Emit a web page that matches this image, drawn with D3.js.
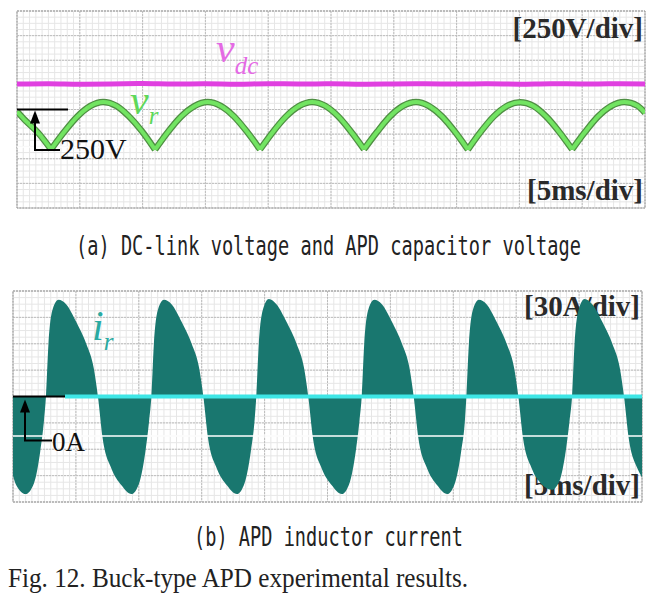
<!DOCTYPE html>
<html>
<head>
<meta charset="utf-8">
<script src="https://cdn.jsdelivr.net/npm/d3@7"></script>
<style>
body { margin: 0; background: #fff; }
svg { display: block; }
</style>
</head>
<body>
<svg id="chart"></svg>
<script>
// time in ms, voltage in V measured from the v_r marker
var vdcData = [[0,258],[2.5,262],[5,257],[7.5,260],[10,263],[12.5,258],[15,261],[17.5,257],[20,262],
  [22.5,259],[25,261],[27.5,257],[30,260],[32.5,262],[35,258],[37.5,261],[40,257],[42.5,262],[45,259],[47.5,261],[50,258]];

var vrData = [[0,-20],[0.65,-110],[1.67,-235],[2.71,-405],
  [3.75,-228],[4.8,-72],[5.85,36],[6.85,76],[7.9,37],[8.9,-68],[9.95,-222],[10.99,-408],
  [12.03,-226],[13.08,-70],[14.12,34],[15.17,75],[16.22,36],[17.26,-69],[18.3,-224],[19.35,-406],
  [20.39,-225],[21.42,-71],[22.45,35],[23.49,77],[24.53,38],[25.56,-68],[26.6,-225],[27.63,-404],
  [28.67,-227],[29.7,-70],[30.73,36],[31.77,76],[32.8,35],[33.83,-70],[34.87,-226],[35.9,-407],
  [36.94,-224],[37.97,-69],[39.0,35],[40.05,74],[41.1,36],[42.12,-70],[43.16,-225],[44.2,-405],
  [45.24,-226],[46.27,-70],[47.3,35],[48.35,76],[49.4,38],[50,-35]];

// envelope of the inductor current, A
var irData = [[0,-90],[0.26,-101],[1.0,-111],[1.66,-99],[2.16,-63],[2.46,-28],
  [2.62,0],[2.82,60],[3.17,100],[3.62,110],[4.22,105],[5.02,85],[5.82,60],[6.42,32],[6.75,0],[7.12,-47],[7.82,-82],[8.62,-101],[9.42,-111],[10.02,-99],[10.52,-63],[10.82,-28],
  [11.0,0],[11.2,60],[11.55,100],[12.0,110],[12.6,105],[13.4,85],[14.2,60],[14.8,32],[15.13,0],[15.5,-47],[16.2,-82],[17.0,-101],[17.8,-111],[18.4,-99],[18.9,-63],[19.2,-28],
  [19.34,0],[19.54,60],[19.89,100],[20.34,111],[20.94,105],[21.74,85],[22.54,60],[23.14,32],[23.47,0],[23.84,-47],[24.54,-82],[25.34,-101],[26.14,-111],[26.74,-99],[27.24,-63],[27.54,-28],
  [27.72,0],[27.92,60],[28.27,100],[28.72,110],[29.32,105],[30.12,85],[30.92,60],[31.52,32],[31.85,0],[32.22,-47],[32.92,-82],[33.72,-101],[34.52,-111],[35.12,-99],[35.62,-63],[35.92,-28],
  [36.04,0],[36.24,60],[36.59,100],[37.04,110],[37.64,105],[38.44,85],[39.24,60],[39.84,32],[40.17,0],[40.54,-47],[41.24,-82],[42.04,-100],[42.84,-106],[43.44,-96],[43.94,-62],[44.24,-28],
  [44.44,0],[44.64,60],[44.99,100],[45.44,111],[46.04,105],[46.84,85],[47.64,60],[48.24,32],[48.57,0],[48.94,-47],[49.64,-82],[50,-92]];

var topLabels = ['[250V/div]', '[5ms/div]'];
var bottomLabels = ['[30A/div]', '[5ms/div]'];
var captionA = '(a) DC-link voltage and APD capacitor voltage';
var captionB = '(b) APD inductor current';
var figCaption = 'Fig. 12. Buck-type APD experimental results.';

const svg = d3.select('#chart').attr('width', 664).attr('height', 599);
const serif = '"Liberation Serif", "Times New Roman", serif';
const mono = '"DejaVu Sans Mono", monospace';

function makePanel(id, box, yDomain, yStep) {
  const x = d3.scaleLinear().domain([0, 50]).range([box.left, box.right]);
  const y = d3.scaleLinear().domain(yDomain).range([box.bottom, box.top]);
  const g = svg.append('g');

  svg.append('clipPath').attr('id', id)
    .append('rect')
    .attr('x', box.left).attr('y', box.top)
    .attr('width', box.right - box.left).attr('height', box.bottom - box.top);

  g.append('rect')
    .attr('x', box.left).attr('y', box.top)
    .attr('width', box.right - box.left).attr('height', box.bottom - box.top)
    .attr('fill', '#fff');

  g.selectAll('line.minor-v')
    .data(d3.range(0, 50.001, 0.5))
    .enter().append('line')
    .attr('x1', d => x(d)).attr('x2', d => x(d))
    .attr('y1', box.top).attr('y2', box.bottom)
    .attr('stroke', '#e6e6e6').attr('stroke-width', 1);

  g.selectAll('line.minor-h')
    .data(d3.range(yDomain[0], yDomain[1] + 1e-6, yStep / 4))
    .enter().append('line')
    .attr('x1', box.left).attr('x2', box.right)
    .attr('y1', d => y(d)).attr('y2', d => y(d))
    .attr('stroke', '#e6e6e6').attr('stroke-width', 1);

  g.selectAll('line.major-v')
    .data(d3.range(0, 50.001, 5))
    .enter().append('line')
    .attr('x1', d => x(d)).attr('x2', d => x(d))
    .attr('y1', box.top).attr('y2', box.bottom)
    .attr('stroke', '#bdbdbd').attr('stroke-width', 1)
    .attr('stroke-dasharray', '2,1');

  g.selectAll('line.major-h')
    .data(d3.range(yDomain[0], yDomain[1] + 1e-6, yStep))
    .enter().append('line')
    .attr('x1', box.left).attr('x2', box.right)
    .attr('y1', d => y(d)).attr('y2', d => y(d))
    .attr('stroke', '#bdbdbd').attr('stroke-width', 1)
    .attr('stroke-dasharray', '2,1');

  g.append('rect')
    .attr('x', box.left).attr('y', box.top)
    .attr('width', box.right - box.left).attr('height', box.bottom - box.top)
    .attr('fill', 'none').attr('stroke', '#a0a0a0').attr('stroke-width', 1)
    .attr('stroke-dasharray', '2,1');

  return {x: x, y: y, g: g, box: box};
}

function scaleText(p, labels, y1, y2) {
  p.g.selectAll('text.div')
    .data(labels)
    .enter().append('text')
    .attr('x', p.box.right - 2)
    .attr('y', (d, i) => i == 0 ? y1 : y2)
    .attr('text-anchor', 'end')
    .attr('font-family', serif).attr('font-weight', 'bold')
    .attr('font-size', 29).attr('fill', '#2a2a2a')
    .text(d => d);
}

// tall, narrow caption text like the original Korean mono font
function caption(str, x, y, width) {
  svg.append('text')
    .attr('transform', 'translate(' + x + ',' + y + ') scale(1,1.42)')
    .attr('font-family', mono).attr('font-size', 18.3).attr('fill', '#222')
    .attr('textLength', width).attr('lengthAdjust', 'spacingAndGlyphs')
    .text(str);
}

// split a trace at its cusps (local minima) so that each arc is smooth
function arcs(data) {
  var out = [], cur = [data[0]];
  for (var i = 1; i < data.length; i++) {
    cur.push(data[i]);
    if (i < data.length - 1 && data[i][1] < data[i - 1][1] && data[i][1] < data[i + 1][1]) {
      out.push(cur);
      cur = [data[i]];
    }
  }
  out.push(cur);
  return out;
}

// ---- (a) voltages
const pa = makePanel('clipA', {left: 17, right: 645, top: 11, bottom: 208}, [-1000, 1000], 250);
scaleText(pa, topLabels, 38, 200);

pa.g.append('line')
  .attr('x1', pa.box.left).attr('x2', pa.box.right)
  .attr('y1', pa.y(-380)).attr('y2', pa.y(-380))
  .attr('stroke', '#fff').attr('stroke-width', 1.5);

const lineA = d3.line().x(d => pa.x(d[0])).y(d => pa.y(d[1]));
const traces = pa.g.append('g').attr('clip-path', 'url(#clipA)');

traces.append('path')
  .datum(vdcData)
  .attr('d', lineA.curve(d3.curveMonotoneX))
  .attr('fill', 'none').attr('stroke', '#e040e0').attr('stroke-width', 5);

var vrArcs = arcs(vrData);
traces.selectAll('path.vr-edge')
  .data(vrArcs)
  .enter().append('path')
  .attr('class', 'vr-edge')
  .attr('d', d3.line().x(d => pa.x(d[0])).y(d => pa.y(d[1])).curve(d3.curveMonotoneX))
  .attr('fill', 'none').attr('stroke', '#4f8f43').attr('stroke-width', 6.5);
traces.selectAll('path.vr')
  .data(vrArcs)
  .enter().append('path')
  .attr('class', 'vr')
  .attr('d', d3.line().x(d => pa.x(d[0])).y(d => pa.y(d[1])).curve(d3.curveMonotoneX))
  .attr('fill', 'none').attr('stroke', '#72e462').attr('stroke-width', 4);

// v_r reference marker
var y0a = pa.y(0), ya = pa.y(-410), xa = pa.box.left + 18;
pa.g.append('line').attr('x1', pa.box.left).attr('x2', pa.box.left + 51)
  .attr('y1', y0a).attr('y2', y0a).attr('stroke', '#000').attr('stroke-width', 2);
pa.g.append('path')
  .attr('d', 'M' + xa + ',' + (y0a + 13) + 'V' + ya + 'H' + (xa + 25))
  .attr('fill', 'none').attr('stroke', '#000').attr('stroke-width', 2);
pa.g.append('path')
  .attr('d', 'M' + xa + ',' + (y0a + 1) + 'L' + (xa - 5) + ',' + (y0a + 14) + 'L' + (xa + 5) + ',' + (y0a + 14) + 'Z')
  .attr('fill', '#000');
pa.g.append('text').attr('x', xa + 25).attr('y', ya + 9)
  .attr('font-family', serif).attr('font-size', 30).attr('fill', '#111')
  .text('250V');

var vdcLabel = pa.g.append('text').attr('x', 216).attr('y', 62)
  .attr('font-family', serif).attr('font-style', 'italic').attr('fill', '#e46ae4');
vdcLabel.append('tspan').attr('font-size', 42).text('v');
vdcLabel.append('tspan').attr('font-size', 25).attr('dy', 12).text('dc');

var vrLabel = pa.g.append('text').attr('x', 130).attr('y', 114)
  .attr('font-family', serif).attr('font-style', 'italic').attr('fill', '#5ed85a');
vrLabel.append('tspan').attr('font-size', 42).text('v');
vrLabel.append('tspan').attr('font-size', 25).attr('dy', 10).text('r');

caption(captionA, 76, 255, 505);

// ---- (b) current
const pb = makePanel('clipB', {left: 13, right: 642, top: 291, bottom: 502}, [-120, 120], 30);
scaleText(pb, bottomLabels, 316, 495);

pb.g.append('path')
  .datum(irData)
  .attr('clip-path', 'url(#clipB)')
  .attr('d', d3.area().x(d => pb.x(d[0])).y0(pb.y(0)).y1(d => pb.y(d[1])).curve(d3.curveMonotoneX))
  .attr('fill', '#19776f');

pb.g.append('line')
  .attr('x1', pb.box.left).attr('x2', pb.box.right)
  .attr('y1', pb.y(-45)).attr('y2', pb.y(-45))
  .attr('stroke', '#fff').attr('stroke-width', 1.5);

var y0b = pb.y(0), yb = y0b + 44, xb = pb.box.left + 12;
pb.g.append('line').attr('x1', pb.box.left + 52).attr('x2', pb.box.right)
  .attr('y1', y0b).attr('y2', y0b).attr('stroke', '#3ee6e6').attr('stroke-width', 4);
pb.g.append('line').attr('x1', pb.box.left).attr('x2', pb.box.left + 52)
  .attr('y1', y0b).attr('y2', y0b).attr('stroke', '#000').attr('stroke-width', 2);
pb.g.append('path')
  .attr('d', 'M' + xb + ',' + (y0b + 14) + 'V' + yb + 'H' + (xb + 27))
  .attr('fill', 'none').attr('stroke', '#000').attr('stroke-width', 2);
pb.g.append('path')
  .attr('d', 'M' + xb + ',' + (y0b + 3) + 'L' + (xb - 5) + ',' + (y0b + 16) + 'L' + (xb + 5) + ',' + (y0b + 16) + 'Z')
  .attr('fill', '#000');
pb.g.append('text').attr('x', xb + 27).attr('y', yb + 10)
  .attr('font-family', serif).attr('font-size', 27).attr('fill', '#111')
  .text('0A');

var irLabel = pb.g.append('text').attr('x', 92).attr('y', 340)
  .attr('font-family', serif).attr('font-style', 'italic').attr('fill', '#2aaaa2');
irLabel.append('tspan').attr('font-size', 42).text('i');
irLabel.append('tspan').attr('font-size', 25).attr('dy', 10).text('r');

caption(captionB, 194, 546, 269);

svg.append('text').attr('x', 8).attr('y', 587)
  .attr('font-family', serif).attr('font-size', 27).attr('fill', '#222')
  .attr('textLength', 460).attr('lengthAdjust', 'spacingAndGlyphs')
  .text(figCaption);
</script>
</body>
</html>
